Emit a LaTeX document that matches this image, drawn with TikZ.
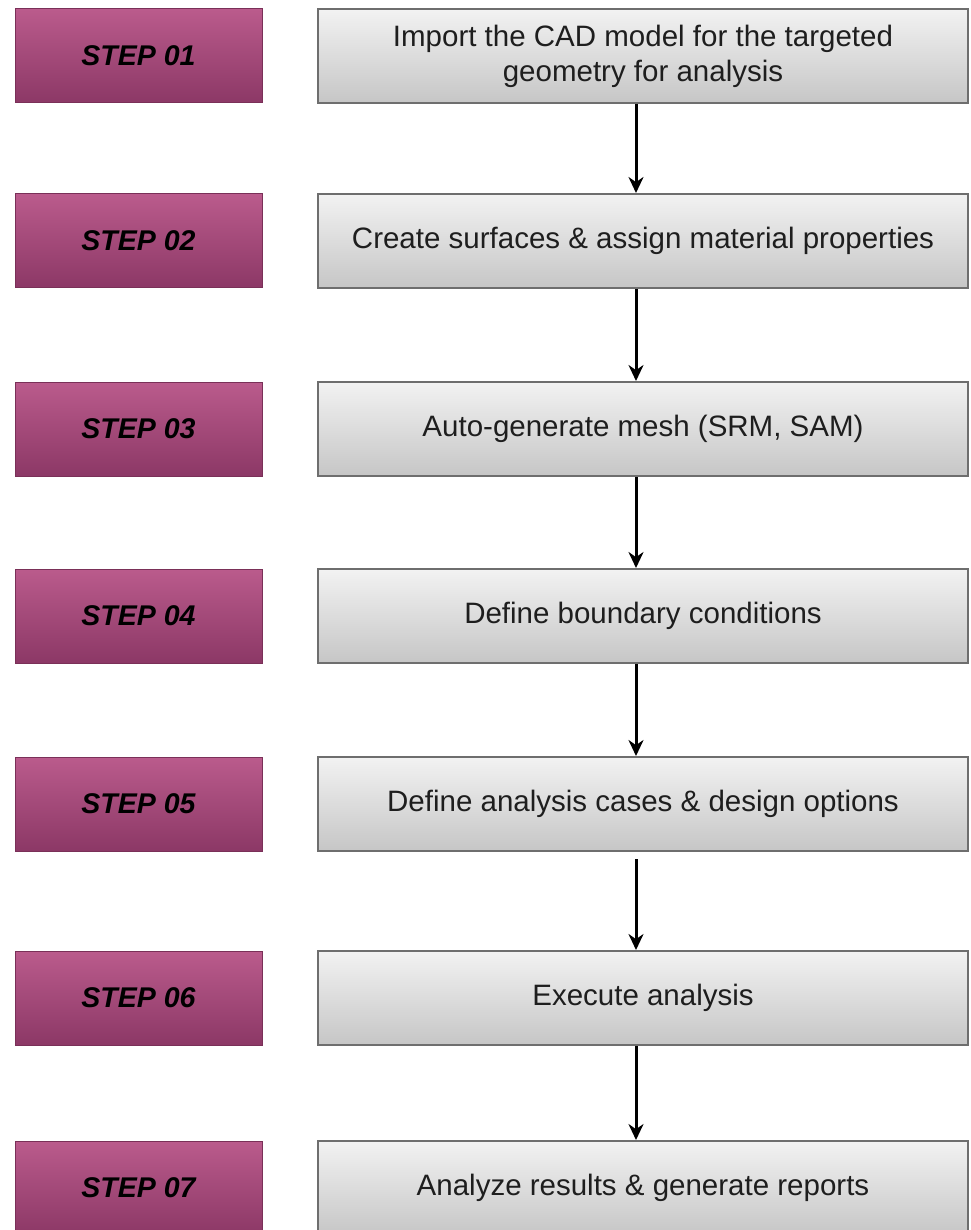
\documentclass[tikz,border=0pt]{standalone}
\usepackage{fontspec}
\setmainfont{Liberation Sans}
\usetikzlibrary{arrows.meta,shadings}
\definecolor{magtop}{HTML}{BA5B8C}
\definecolor{magbot}{HTML}{8C3866}
\definecolor{magedge}{HTML}{7A3058}
\definecolor{graytop}{HTML}{F2F2F2}
\definecolor{graybot}{HTML}{C6C6C6}
\definecolor{grayedge}{HTML}{6E6E6E}
\definecolor{txt}{HTML}{1E1E1E}
\tikzset{
  stepbox/.style={draw=magedge, line width=1pt, top color=magtop, bottom color=magbot,
    minimum width=247pt, minimum height=94pt, inner sep=0pt,
    font=\fontsize{28.5}{31}\selectfont\bfseries\itshape, text=black},
  taskbox/.style={draw=grayedge, line width=2pt, top color=graytop, bottom color=graybot,
    minimum width=650pt, minimum height=94pt, inner sep=0pt, align=center,
    font=\fontsize{29.5}{35}\selectfont, text=txt},
  flow/.style={line width=3pt, -{Stealth[length=16pt,width=15pt]}}
}
\begin{document}
\begin{tikzpicture}[x=1pt,y=1pt]
\useasboundingbox (0,0) rectangle (970,-1230);
\foreach \i/\y in {1/56,2/241,3/429,4/616,5/804,6/998,7/1188}{
  \node[stepbox] (s\i) at (138.5,-\y) {STEP 0\i};
}
\node[taskbox] (t1) at (643,-56) {Import the CAD model for the targeted\\geometry for analysis};
\node[taskbox] (t2) at (643,-241) {Create surfaces \& assign material properties};
\node[taskbox] (t3) at (643,-429) {Auto-generate mesh (SRM, SAM)};
\node[taskbox] (t4) at (643,-616) {Define boundary conditions};
\node[taskbox] (t5) at (643,-804) {Define analysis cases \& design options};
\node[taskbox] (t6) at (643,-998) {Execute analysis};
\node[taskbox] (t7) at (643,-1188) {Analyze results \& generate reports};
\coordinate (ax) at (636,0);
\foreach \a/\b in {1/2,2/3,3/4,4/5,6/7}{
  \draw[flow] (t\a.south -| ax) -- (t\b.north -| ax);
}
\draw[flow, shorten <=7pt] (t5.south -| ax) -- (t6.north -| ax);
\end{tikzpicture}
\end{document}
